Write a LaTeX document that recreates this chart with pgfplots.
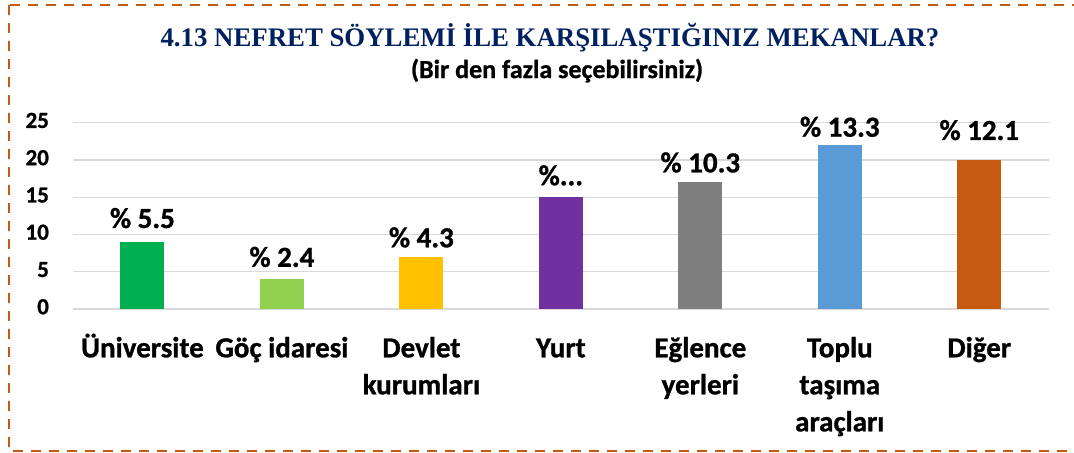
\documentclass[border=0pt]{standalone}
\usepackage{fontspec}
\setmainfont{Carlito}[BoldFeatures={FakeBold=1}]
\newfontfamily\titlefont{Liberation Serif}
\usepackage{pgfplots}
\pgfplotsset{compat=1.18}

\definecolor{frameorange}{HTML}{C55A11}
\definecolor{titleblue}{HTML}{002060}
\definecolor{gridgray}{HTML}{D9D9D9}
\definecolor{cuni}{HTML}{00B050}
\definecolor{cgoc}{HTML}{92D050}
\definecolor{cdev}{HTML}{FFC000}
\definecolor{cyurt}{HTML}{7030A0}
\definecolor{cegl}{HTML}{7F7F7F}
\definecolor{ctop}{HTML}{5B9BD5}
\definecolor{cdig}{HTML}{C55A11}

% one bar per category, its own colour and label offset
\pgfplotsset{catbar/.style={ybar, bar width=22pt, draw=none,
    point meta=explicit symbolic, nodes near coords,
    nodes near coords style={font=\bfseries\fontsize{14.5}{17}\selectfont,
      text=black, anchor=base, inner sep=0pt, yshift=#1}}}

\begin{document}
\begin{tikzpicture}[x=0.5pt,y=-0.5pt]
  \useasboundingbox (0,0) rectangle (1074,452);
  \draw[frameorange, line width=1pt, dash pattern=on 5pt off 4pt]
    (8.6,5) rectangle (1090,450.5);
  \node[anchor=base, inner sep=0pt, text=titleblue,
        font=\titlefont\bfseries\fontsize{13.4}{16}\selectfont] at (550,46.7)
    {4.13 NEFRET SÖYLEMİ İLE KARŞILAŞTIĞINIZ MEKANLAR?};
  \node[anchor=base, inner sep=0pt, font=\bfseries\fontsize{13}{15}\selectfont]
    at (557,78) {(Bir den fazla seçebilirsiniz)};

  \begin{axis}[
      at={(36.35pt,-154.5pt)}, anchor=south west,
      scale only axis, width=488.15pt, height=93.15pt,
      clip=false,
      xmin=-0.5, xmax=6.5, ymin=0, ymax=25,
      xtick={0,...,6}, ytick={0,5,...,25},
      xticklabels={Üniversite, Göç idaresi, {Devlet\\kurumları}, Yurt,
                   {Eğlence\\yerleri}, {Toplu\\taşıma\\araçları}, Diğer},
      ymajorgrids, grid style={draw=gridgray, line width=0.65pt},
      axis line style={draw=none}, tick style={draw=none},
      typeset ticklabels with strut,
      /pgf/number format/assume math mode=true,
      yticklabel style={font=\bfseries\fontsize{11.5}{13}\selectfont,
                        inner sep=0pt, xshift=-11.7pt},
      xticklabel style={font=\bfseries\fontsize{14.5}{18.5}\selectfont,
                        align=center, inner sep=0pt, anchor=north, yshift=-11pt},
    ]
    \addplot[catbar=7pt, fill=cuni] coordinates {(0,9) [\% 5.5]};
    \addplot[catbar=6.2pt, fill=cgoc] coordinates {(1,4) [\% 2.4]};
    \addplot[catbar=4.8pt, fill=cdev] coordinates {(2,7) [\% 4.3]};
    \addplot[catbar=6pt, fill=cyurt] coordinates {(3,15) [\%...]};
    \addplot[catbar=5pt, fill=cegl] coordinates {(4,17) [\% 10.3]};
    \addplot[catbar=4.2pt, fill=ctop] coordinates {(5,22) [\% 13.3]};
    \addplot[catbar=10pt, fill=cdig] coordinates {(6,20) [\% 12.1]};
  \end{axis}
\end{tikzpicture}
\end{document}
